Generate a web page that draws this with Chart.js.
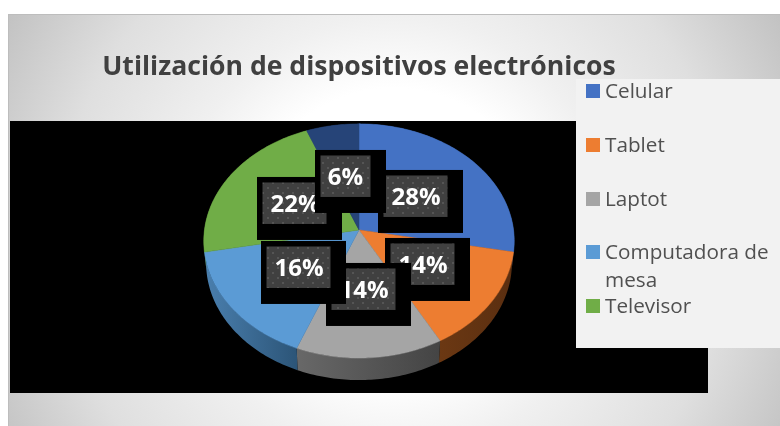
<!DOCTYPE html>
<html><head><meta charset="utf-8">
<style>html,body{margin:0;padding:0;background:#fff;overflow:hidden}canvas{display:block}</style>
<script src="https://cdn.jsdelivr.net/npm/chart.js@4"></script>
</head><body><div style="width:780px;height:426px;position:relative"><canvas id="c" width="780" height="426"></canvas></div>
<script>
const categories = ['Celular','Tablet','Laptot','Computadora de mesa','Televisor',''];
const values = [28,14,14,16,22,6];
const sliceColors = ['#4472C4','#ED7D31','#A5A5A5','#5B9BD5','#70AD47','#264478'];
const wallColors = [['#3a5fa0','#2a4675'],['#6b3813','#5a2e10'],['#686868','#444444'],['#4a7fae','#2c5578'],['#4a7a2e','#365a20'],['#1b3157','#1b3157']];
const titleText = 'Utilización de dispositivos electrónicos';
const labelOffsets = [[19,-60],[26,8],[-33,33],[-98,11],[-102,-53],[-44,-80]];
const legendLines = {3:['Computadora de','mesa']};

const K = 0.094, SQUASH = 0.751, DEPTH = 22, SHRINK = 0.985, STEP = Math.PI/180;
function project(a, angle, r, shift, scale){
  const u = Math.cos(angle), v = Math.sin(angle), w = 1 - K*v, s = scale||1;
  return [a.x + r*s*u/w, a.y + r*SQUASH*v/w + (shift||0)];
}
function rim(ctx,a,from,to,shift,scale,first){
  const n = Math.max(2,Math.ceil(Math.abs(to-from)/STEP));
  for(let i=0;i<=n;i++){
    const p = project(a, from+(to-from)*i/n, a.outerRadius, shift, scale);
    if(first&&i===0) ctx.moveTo(p[0],p[1]); else ctx.lineTo(p[0],p[1]);
  }
}
const dotPattern = (()=>{
  const p=document.createElement('canvas');p.width=10;p.height=10;
  const g=p.getContext('2d');g.fillStyle='#404040';g.fillRect(0,0,10,10);
  g.fillStyle='#555555';g.fillRect(2,2,2,2);g.fillRect(7,7,2,2);
  return p;
})();

const scene = {
  id:'scene',
  beforeDraw(chart){
    const c=chart.ctx;
    c.save();
    c.fillStyle='#fff';c.fillRect(0,0,780,426);
    const g=c.createRadialGradient(394,235,0,394,235,445);
    g.addColorStop(0,'#ffffff');g.addColorStop(.33,'#ffffff');g.addColorStop(.49,'#f0f0f0');g.addColorStop(.75,'#dfdfdf');g.addColorStop(1,'#c2c2c2');
    c.fillStyle=g;c.fillRect(8,14,772,412);
    c.fillStyle='#bdbdbd';c.fillRect(8,14,772,1);c.fillRect(8,14,1,412);
    c.fillStyle='#000';c.fillRect(10,121,698,272);
    c.restore();
  },
  beforeDatasetsDraw(chart){
    const c=chart.ctx, arcs=chart.getDatasetMeta(0).data;
    c.save();
    arcs.forEach((a,i)=>{
      const p0=project(a,a.startAngle,a.outerRadius), p1=project(a,a.endAngle,a.outerRadius);
      const g=c.createLinearGradient(Math.min(p0[0],p1[0]),0,Math.max(p0[0],p1[0]),0);
      g.addColorStop(0,wallColors[i][0]);g.addColorStop(1,wallColors[i][1]);
      c.fillStyle=g;c.beginPath();
      rim(c,a,a.startAngle,a.endAngle,0,1,true);
      rim(c,a,a.endAngle,a.startAngle,DEPTH,SHRINK,false);
      c.closePath();c.fill();
    });
    arcs.forEach((a,i)=>{
      c.fillStyle=a.options.backgroundColor;c.strokeStyle=a.options.backgroundColor;c.lineWidth=.5;
      c.beginPath();c.moveTo(a.x,a.y);
      rim(c,a,a.startAngle,a.endAngle,0,1,false);
      c.closePath();c.fill();c.stroke();
    });
    c.restore();
    return false;
  },
  afterDraw(chart){
    const c=chart.ctx, arcs=chart.getDatasetMeta(0).data;
    c.save();
    c.textBaseline='middle';
    const pat=c.createPattern(dotPattern,'repeat');
    arcs.forEach((a,i)=>{
      const t=values[i]+'%', narrow=values[i]<10;
      const bw=narrow?71:85, gw=narrow?50:64;
      const x=a.x+labelOffsets[i][0], y=a.y+labelOffsets[i][1];
      c.fillStyle='#000';c.fillRect(x,y,bw,63);
      c.fillStyle=pat;c.fillRect(x+5.5,y+5.5,gw,41.5);
      c.fillStyle='#fff';c.font='bold 24px "Open Sans"';c.textAlign='center';
      c.fillText(t,x+5.5+gw/2+(narrow?0:0.5),y+5.5+23);
    });
    c.fillStyle='#f2f2f2';c.fillRect(576,79,204,269);
    const rows=[91,145,199,252,306];
    c.font='20.7px "Open Sans"';c.textAlign='left';
    rows.forEach((y,i)=>{
      c.fillStyle=sliceColors[i];c.fillRect(586,y-7,14,14);
      c.fillStyle='#505050';
      (legendLines[i]||[categories[i]]).forEach((s,j)=>c.fillText(s,605,y+1+j*28));
    });
    c.restore();
  }
};

new Chart(document.getElementById('c'),{
  type:'pie',
  data:{labels:categories,datasets:[{data:values,backgroundColor:sliceColors,borderWidth:0}]},
  options:{
    responsive:false,animation:false,
    layout:{padding:{left:0,right:62,top:43.5,bottom:41.5}},
    plugins:{
      legend:{display:false},tooltip:{enabled:false},
      title:{display:true,text:titleText,color:'#404040',font:{family:'"Open Sans"',size:26.6,weight:'bold',lineHeight:1.2},padding:{top:7.5,bottom:-7.5}}
    }
  },
  plugins:[scene]
});
</script></body></html>
